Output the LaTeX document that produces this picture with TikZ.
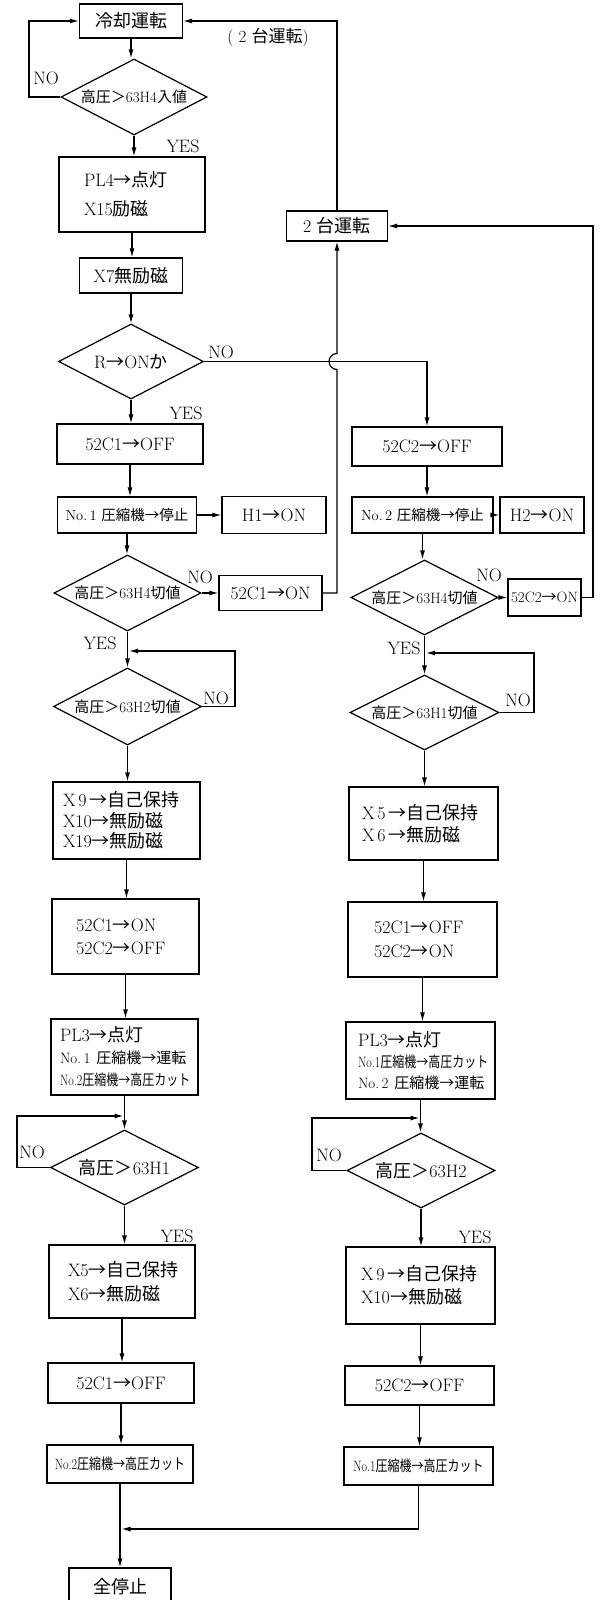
\documentclass[tikz,border=0pt]{standalone}
\usepackage{fontspec}
\newfontfamily\jpfont{Noto Sans CJK JP}
\usetikzlibrary{arrows.meta,shapes.geometric}
\newcommand{\jp}[1]{{\jpfont #1}}
\newcommand{\cond}[1]{\scalebox{0.8}[1]{#1}}
\newcommand{\fs}[2]{\fontsize{#1}{#2}\selectfont}
\tikzset{
  box/.style={draw, line width=1.2pt, inner sep=0pt, font=\fs{18}{21}},
  lbox/.style={box, align=left},
  dia/.style={draw, diamond, aspect=2, line width=1.2pt, inner sep=0pt, font=\fs{15}{18}},
  arr/.style={draw, line width=1.2pt, -{Latex[length=9pt,width=5pt]}},
  ln/.style={draw, line width=1.2pt},
  lbl/.style={inner sep=0pt, font=\fs{18}{20}}
}
\begin{document}
\begin{tikzpicture}[x=1pt,y=1pt]
\useasboundingbox (0,0) rectangle (603,-1600);
\clip (0,0) rectangle (603,-1600);
\fill[white] (0,0) rectangle (603,-1600);
% ---------- left column ----------
\node[box, minimum width=103, minimum height=34] (cool) at (131,-21) {\jp{冷却運転}};
\node[dia, minimum width=146, minimum height=76] (d1) at (134,-97) {\jp{高圧＞}63H4\jp{入値}};
\node[lbox, minimum height=75, text width=96, inner xsep=25, font=\fs{18}{29}] (pl4) at (132,-194.5) {PL4\jp{→点灯}\\X15\jp{励磁}};
\node[box, minimum width=103, minimum height=35] (x7) at (131,-275.5) {X7\jp{無励磁}};
\node[dia, minimum width=145, minimum height=75, font=\fs{18}{20}] (d2) at (131,-361.5) {R\jp{→}ON\jp{か}};
\node[box, minimum width=146, minimum height=40] (c1off) at (130,-444) {52C1\jp{→}OFF};
\node[box, minimum width=139, minimum height=36, font=\fs{14.5}{17}] (no1stop) at (127,-515) {No.\,1 \jp{圧縮機→停止}};
\node[box, minimum width=104, minimum height=37] (h1on) at (274,-515) {H1\jp{→}ON};
\node[dia, minimum width=147, minimum height=76] (d3) at (127.5,-593) {\jp{高圧＞}63H4\jp{切値}};
\node[box, minimum width=103, minimum height=35] (c1on) at (270.5,-593) {52C1\jp{→}ON};
\node[dia, minimum width=148, minimum height=77] (d5) at (127.5,-706.5) {\jp{高圧＞}63H2\jp{切値}};
\node[lbox, minimum height=77, text width=127, inner xsep=10, font=\fs{18}{20.5}] (x9L) at (126.5,-820.5) {\mbox{X\,9\,\jp{→自己保持}}\\X10\jp{→無励磁}\\X19\jp{→無励磁}};
\node[lbox, minimum height=75, text width=99, inner xsep=24, font=\fs{18}{23}] (c1c2L) at (125.5,-936.5) {52C1\jp{→}ON\\52C2\jp{→}OFF};
\node[lbox, minimum height=76, text width=129, inner xsep=9, font=\fs{18}{22}] (pl3L) at (124.5,-1057) {PL3\jp{→点灯}\\\fs{15}{22}\mbox{No.\,1 \jp{圧縮機→運転}}\\\cond{No.2\jp{圧縮機→高圧カット}}};
\node[dia, minimum width=148, minimum height=75, font=\fs{18}{20}] (d7) at (124.5,-1167.5) {\jp{高圧＞}63H1};
\node[lbox, minimum height=73, text width=108, inner xsep=19, font=\fs{18}{24}] (x5L) at (122,-1281.5) {X5\jp{→自己保持}\\X6\jp{→無励磁}};
\node[box, minimum width=146, minimum height=40] (c1offL) at (121,-1383) {52C1\jp{→}OFF};
\node[box, minimum width=146, minimum height=38, font=\fs{15}{18}] (no2cut) at (120,-1464) {\cond{No.2\jp{圧縮機→高圧カット}}};
\node[box, minimum width=102, minimum height=38] (stop) at (120,-1587) {\jp{全停止}};
% ---------- right column ----------
\node[box, minimum width=101, minimum height=30] (tworun) at (337,-226) {2 \jp{台運転}};
\node[box, minimum width=150, minimum height=39] (c2off) at (427,-446.5) {52C2\jp{→}OFF};
\node[box, minimum width=141, minimum height=36, font=\fs{14.5}{17}] (no2stop) at (422.5,-515) {No.\,2 \jp{圧縮機→停止}};
\node[box, minimum width=84, minimum height=36] (h2on) at (542,-515) {H2\jp{→}ON};
\node[dia, minimum width=147, minimum height=75] (d4) at (424.5,-597.5) {\jp{高圧＞}63H4\jp{切値}};
\node[box, minimum width=73, minimum height=37, font=\fs{15}{18}] (c2on) at (544.5,-597.5) {52C2\jp{→}ON};
\node[dia, minimum width=149, minimum height=75] (d6) at (424.5,-712.5) {\jp{高圧＞}63H1\jp{切値}};
\node[lbox, minimum height=73, text width=123, inner xsep=13, font=\fs{18}{22}] (x5R) at (423.5,-823.5) {\mbox{X\,5\,\jp{→自己保持}}\\\mbox{X\,6\,\jp{→無励磁}}};
\node[lbox, minimum height=75, text width=97, inner xsep=26, font=\fs{18}{24}] (c1c2R) at (422.5,-939.5) {52C1\jp{→}OFF\\52C2\jp{→}ON};
\node[lbox, minimum height=77, text width=125, inner xsep=12, font=\fs{18}{21}] (pl3R) at (420.5,-1060.5) {PL3\jp{→点灯}\\\fs{15}{21}\cond{No.1\jp{圧縮機→高圧カット}}\\\mbox{No.\,2 \jp{圧縮機→運転}}};
\node[dia, minimum width=148, minimum height=75, font=\fs{18}{20}] (d8) at (421,-1170.5) {\jp{高圧＞}63H2};
\node[lbox, minimum height=77, text width=119, inner xsep=15, font=\fs{18}{23}] (x9R) at (420.5,-1285.5) {\mbox{X\,9\,\jp{→自己保持}}\\X10\jp{→無励磁}};
\node[box, minimum width=149, minimum height=39] (c2offR) at (419.5,-1385.5) {52C2\jp{→}OFF};
\node[box, minimum width=149, minimum height=38, font=\fs{15}{18}] (no1cut) at (418.5,-1466) {\cond{No.1\jp{圧縮機→高圧カット}}};
% ---------- labels ----------
\node[lbl] (noA) at (46,-78) {NO};
\node[lbl, font=\fs{17}{20}] (twolbl) at (268,-37) {( 2 \jp{台運転})};
\node[lbl] (yesA) at (183,-146) {YES};
\node[lbl] (noB) at (221,-352) {NO};
\node[lbl] (yesB) at (186,-413) {YES};
\node[lbl] (noC) at (200,-577) {NO};
\node[lbl] (noD) at (489,-575) {NO};
\node[lbl] (yesC) at (100,-643) {YES};
\node[lbl] (yesD) at (404,-648) {YES};
\node[lbl] (noE) at (216,-698) {NO};
\node[lbl] (noF) at (518,-700) {NO};
\node[lbl] (noG) at (32,-1152) {NO};
\node[lbl] (yesG) at (177,-1236) {YES};
\node[lbl] (noH) at (329,-1155) {NO};
\node[lbl] (yesH) at (475,-1237) {YES};
% ---------- coordinates ----------
\coordinate (n1) at (29,-97);
\coordinate (hb) at (337,-369.5);
\coordinate (r1) at (593,-597.5);
\coordinate (l5) at (235,-706.5);
\coordinate (l5e) at (129,-651);
\coordinate (l6) at (534,-712.5);
\coordinate (l6e) at (426,-653);
\coordinate (l7) at (17,-1167.5);
\coordinate (l7e) at (123.5,-1116);
\coordinate (l8) at (312,-1170.5);
\coordinate (l8e) at (419.5,-1118);
\coordinate (m) at (121.5,-1529);
% ---------- connectors left ----------
\draw[arr] (cool.south) -- (cool.south |- d1.north);
\draw[arr] (d1.south) -- (d1.south |- pl4.north);
\draw[arr] (pl4.south) -- (pl4.south |- x7.north);
\draw[arr] (x7.south) -- (x7.south |- d2.north);
\draw[arr] (d2.south) -- (d2.south |- c1off.north);
\draw[arr] (c1off.south) -- (c1off.south |- no1stop.north);
\draw[arr] (no1stop.south) -- (no1stop.south |- d3.north);
\draw[arr] (d3.south) -- (d3.south |- d5.north);
\draw[arr] (d5.south) -- (d5.south |- x9L.north);
\draw[arr] (x9L.south) -- (x9L.south |- c1c2L.north);
\draw[arr] (c1c2L.south) -- (c1c2L.south |- pl3L.north);
\draw[arr] (pl3L.south) -- (pl3L.south |- d7.north);
\draw[arr] (d7.south) -- (d7.south |- x5L.north);
\draw[arr] (x5L.south) -- (x5L.south |- c1offL.north);
\draw[arr] (c1offL.south) -- (c1offL.south |- no2cut.north);
\draw[arr] (no2cut.south) -- (no2cut.south |- stop.north);
% ---------- connectors right ----------
\draw[arr] (c2off.south) -- (c2off.south |- no2stop.north);
\draw[arr] (no2stop.south) -- (no2stop.south |- d4.north);
\draw[arr] (d4.south) -- (d4.south |- d6.north);
\draw[arr] (d6.south) -- (d6.south |- x5R.north);
\draw[arr] (x5R.south) -- (x5R.south |- c1c2R.north);
\draw[arr] (c1c2R.south) -- (c1c2R.south |- pl3R.north);
\draw[arr] (pl3R.south) -- (pl3R.south |- d8.north);
\draw[arr] (d8.south) -- (d8.south |- x9R.north);
\draw[arr] (x9R.south) -- (x9R.south |- c2offR.north);
\draw[arr] (c2offR.south) -- (c2offR.south |- no1cut.north);
\draw[arr] (no1cut.south) |- (m);
% ---------- side arrows ----------
\draw[arr] (no1stop.east) -- (no1stop.east -| h1on.west);
\draw[arr] (no2stop.east) -- (no2stop.east -| h2on.west);
\draw[arr] (d3.east) -- (d3.east -| c1on.west);
\draw[arr] (d4.east) -- (d4.east -| c2on.west);
% ---------- loops ----------
\draw[arr] (d1.west) -- (n1) |- (cool.west);
\draw[arr] (tworun.north) |- (cool.east);
\draw[arr] (d2.east) -| (c2off.north);
\draw[arr] (c1on.east) -| (hb) arc[start angle=-90, end angle=-270, radius=8] -- (tworun.south);
\draw[arr] (c2on.east) -- (r1) |- (tworun.east);
\draw[arr] (d5.east) -- (l5) |- (l5e);
\draw[arr] (d6.east) -- (l6) |- (l6e);
\draw[arr] (d7.west) -- (l7) |- (l7e);
\draw[arr] (d8.west) -- (l8) |- (l8e);
\end{tikzpicture}
\end{document}
